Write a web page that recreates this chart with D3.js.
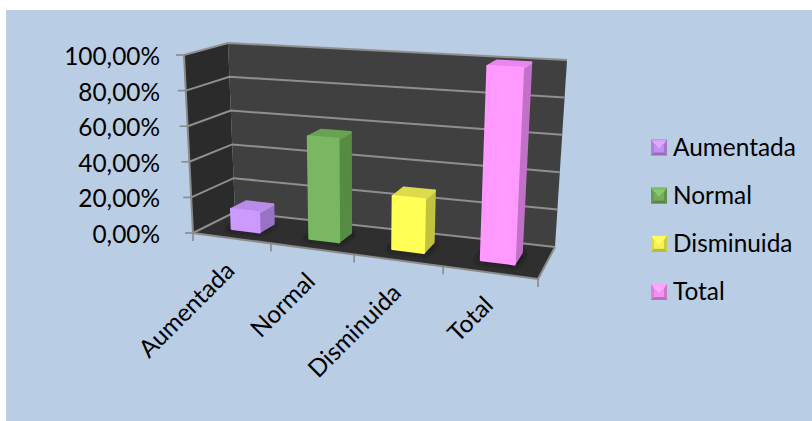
<!DOCTYPE html>
<html lang="es">
<head>
<meta charset="utf-8">
<style>
  html, body { margin: 0; padding: 0; background: #fff; }
  svg { display: block; }
  text { font-family: Lato, "Open Sans", sans-serif; fill: #000; }
</style>
</head>
<body>
<script src="https://cdn.jsdelivr.net/npm/d3@7/dist/d3.min.js"></script>
<script>
const categories = ["Aumentada", "Normal", "Disminuida", "Total"];
const values = [11, 56, 28, 100];
const frontColors = ["#cc99ff", "#7ab763", "#ffff55", "#ff99ff"];
const topColors = ["#b98ce8", "#68a352", "#dcdc4c", "#e986ef"];
const sideColors = ["#9a72c4", "#578c42", "#c2c23e", "#c271c9"];
const yTicks = [0, 20, 40, 60, 80, 100];

const W = 812, H = 421;
const svg = d3.select("body").append("svg").attr("width", W).attr("height", H);
const defs = svg.append("defs");

// Chart area background
svg.append("rect").attr("x", 6).attr("y", 10).attr("width", W - 6).attr("height", H - 10).attr("fill", "#b9cde5");

// Box corners of the 3D plot, ordered front-left, front-right, back-right, back-left
const floorQuad = [[193, 233], [538, 279], [555, 247], [235, 212]];
const ceilQuad = [[184, 55], [547, 75], [567, 60], [228, 43]];

// Bilinear map of the unit square onto a quadrilateral
function quadMap(q) {
  return (u, w) => {
    const fx = q[0][0] + (q[1][0] - q[0][0]) * u, fy = q[0][1] + (q[1][1] - q[0][1]) * u;
    const bx = q[3][0] + (q[2][0] - q[3][0]) * u, by = q[3][1] + (q[2][1] - q[3][1]) * u;
    return [fx + (bx - fx) * w, fy + (by - fy) * w];
  };
}
const onFloor = quadMap(floorQuad), onCeil = quadMap(ceilQuad);

const vScale = d3.scaleLinear().domain([0, 100]).range([0, 1]);
// Category slots widen toward the viewer on the right
const uEdge = d3.scaleLinear().domain([0, 1, 2, 3, 4]).range([0, 0.226, 0.467, 0.725, 1]);
const wFront = 0.35, wBack = 0.72;

function project(u, v, w) {
  const a = onFloor(u, w), b = onCeil(u, w), t = vScale(v);
  return [a[0] + (b[0] - a[0]) * t, a[1] + (b[1] - a[1]) * t];
}
const poly = pts => "M" + pts.map(p => p.map(n => n.toFixed(2)).join(",")).join("L") + "Z";

// Walls and floor
const plot = svg.append("g");
plot.append("path").attr("fill", "#2b2b2b")
  .attr("d", poly([project(0, 0, 0), project(0, 100, 0), project(0, 100, 1), project(0, 0, 1)]));
plot.append("path").attr("fill", "#404040")
  .attr("d", poly([project(0, 0, 1), project(0, 100, 1), project(1, 100, 1), project(1, 0, 1)]));
plot.append("path").attr("fill", "#2f2f2f")
  .attr("d", poly([project(0, 0, 0), project(1, 0, 0), project(1, 0, 1), project(0, 0, 1)]));

// Gridlines run along the side wall and the back wall
const gridLine = d3.line();
plot.selectAll("path.grid").data(yTicks).join("path").attr("class", "grid")
  .attr("fill", "none").attr("stroke", "#8f8f8f").attr("stroke-width", 2)
  .attr("d", v => gridLine([project(0, v, 0), project(0, v, 1), project(1, v, 1)]));

// Value axis, category axis and their tick marks
const axisColor = "#8a8a8a";
plot.append("path").attr("fill", "none").attr("stroke", axisColor).attr("stroke-width", 2)
  .attr("d", gridLine([project(0, 100, 0), project(0, 0, 0), project(1, 0, 0), project(1, 0, 1)]));
plot.selectAll("line.ytick").data(yTicks).join("line").attr("class", "ytick")
  .attr("stroke", axisColor).attr("stroke-width", 1.6)
  .attr("x1", v => project(0, v, 0)[0]).attr("y1", v => project(0, v, 0)[1])
  .attr("x2", v => project(0, v, 0)[0] - 8).attr("y2", v => project(0, v, 0)[1]);
plot.selectAll("line.xtick").data(d3.range(categories.length + 1)).join("line").attr("class", "xtick")
  .attr("stroke", axisColor).attr("stroke-width", 1.6)
  .attr("x1", i => project(uEdge(i), 0, 0)[0]).attr("y1", i => project(uEdge(i), 0, 0)[1])
  .attr("x2", i => project(uEdge(i), 0, 0)[0]).attr("y2", i => project(uEdge(i), 0, 0)[1] + 8);

// Soft contact shadow under each bar, slight softening of the bar edges
defs.append("filter").attr("id", "soft").attr("x", "-30%").attr("y", "-30%").attr("width", "160%").attr("height", "160%")
  .append("feGaussianBlur").attr("stdDeviation", 2.5);
defs.append("filter").attr("id", "edge").attr("x", "-10%").attr("y", "-10%").attr("width", "120%").attr("height", "120%")
  .append("feGaussianBlur").attr("stdDeviation", 0.5);

const bars = svg.append("g").selectAll("g").data(categories).join("g");
bars.each(function (cat, i) {
  const g = d3.select(this);
  const u0 = uEdge(i + 0.32), u1 = uEdge(i + 0.68), v = values[i];
  g.append("path").attr("fill", "#161616").attr("filter", "url(#soft)")
    .attr("d", poly([project(u0 - 0.012, 0, wFront - 0.06), project(u1 + 0.012, 0, wFront - 0.06), project(u1 + 0.012, 0, wBack), project(u0 - 0.012, 0, wBack)]));
  const faces = [
    [sideColors[i], [project(u1, 0, wFront), project(u1, v, wFront), project(u1, v, wBack), project(u1, 0, wBack)]],
    [topColors[i], [project(u0, v, wFront), project(u1, v, wFront), project(u1, v, wBack), project(u0, v, wBack)]],
    [frontColors[i], [project(u0, 0, wFront), project(u0, v, wFront), project(u1, v, wFront), project(u1, 0, wFront)]]
  ];
  const body = g.append("g").attr("filter", "url(#edge)");
  body.selectAll("path.face").data(faces).join("path").attr("class", "face")
    .attr("fill", d => d[0]).attr("stroke", d => d[0]).attr("stroke-width", 2.6).attr("stroke-linejoin", "round")
    .attr("d", d => poly(d[1]));
});

// Value axis labels
const pct = v => d3.format(".2f")(v).replace(".", ",") + "%";
svg.append("g").selectAll("text").data(yTicks).join("text")
  .attr("text-anchor", "end").attr("font-size", 24.4)
  .attr("x", 160)
  .attr("y", v => project(0, v, 0)[1] + 10)
  .text(pct);

// Category labels, slanted up to the tick midpoints
svg.append("g").selectAll("text").data(categories).join("text")
  .attr("text-anchor", "end").attr("font-size", 24.4)
  .attr("transform", (c, i) => {
    const p = project(uEdge(i + 0.5), 0, 0);
    return `translate(${p[0] + 4},${p[1] + 34}) rotate(-45)`;
  })
  .text(c => c);

// Legend with bevelled swatches
const legendY = d3.scalePoint().domain(categories).range([147.5, 292]);
const legend = svg.append("g").selectAll("g").data(categories).join("g");
const s = 8, b = 3;
legend.each(function (c, i) {
  const g = d3.select(this), base = d3.color(frontColors[i]);
  const o = [[-s, -s], [s, -s], [s, s], [-s, s]], n = [[-s + b, -s + b + 2], [s - b, -s + b + 2], [s - b, s - b], [-s + b, s - b]];
  g.attr("transform", `translate(${651 + s},${legendY(c)})`);
  g.append("path").attr("d", poly(o)).attr("fill", base.darker(0.9));
  g.append("path").attr("d", poly([o[0], o[1], n[1], n[0]])).attr("fill", base.brighter(0.1));
  g.append("path").attr("d", poly([o[0], o[3], n[3], n[0]])).attr("fill", base.darker(0.45));
  g.append("path").attr("d", poly([o[1], o[2], n[2], n[1]])).attr("fill", base.darker(0.65));
  g.append("path").attr("d", poly(n)).attr("fill", base.darker(0.15));
  g.append("path").attr("d", poly([[-s + 2, -s + 2], [s - 2, -s + 2], [0, 1]])).attr("fill", base.brighter(0.3));
  g.append("text").attr("x", 14).attr("y", 8).attr("font-size", 24.4).text(c);
});
</script>
</body>
</html>
